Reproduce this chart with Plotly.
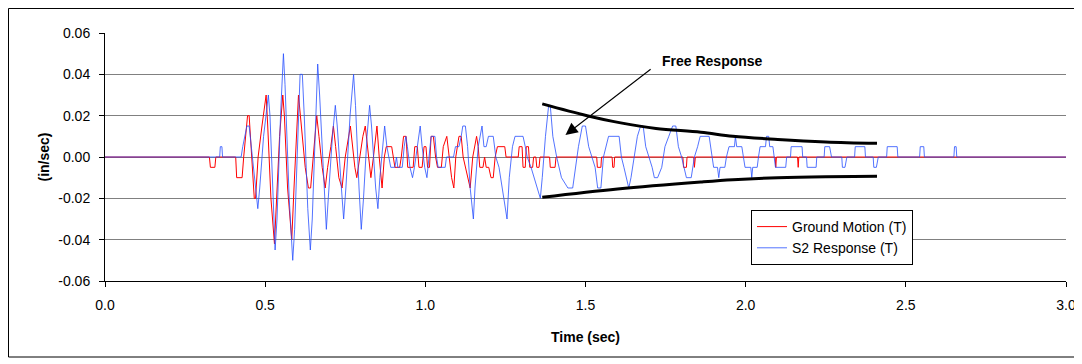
import plotly.graph_objects as go

# ---------------- data ----------------
gm_t = [0.0, 0.326, 0.329, 0.343, 0.346, 0.408, 0.411, 0.428, 0.433, 0.44, 0.445, 0.45, 0.458, 0.466, 0.47,
        0.478, 0.49, 0.503, 0.508, 0.518, 0.529, 0.535, 0.545, 0.555, 0.56, 0.57, 0.583, 0.59, 0.598, 0.604,
        0.61, 0.625, 0.635, 0.642, 0.65, 0.661, 0.668, 0.678, 0.6875, 0.695, 0.705, 0.713, 0.72, 0.73, 0.74,
        0.75, 0.766, 0.772, 0.78, 0.786, 0.795, 0.805, 0.8125, 0.82, 0.83, 0.838, 0.849, 0.856, 0.865, 0.872,
        0.878, 0.895, 0.9, 0.905, 0.92, 0.925, 0.932, 0.94, 0.945, 0.962, 0.967, 0.975, 0.98, 0.99, 0.996,
        1.002, 1.007, 1.013, 1.018, 1.025, 1.032, 1.038, 1.05, 1.056, 1.067, 1.075, 1.082, 1.089, 1.095, 1.105,
        1.112, 1.118, 1.125, 1.132, 1.14, 1.148, 1.155, 1.16, 1.165, 1.17, 1.18, 1.185, 1.19, 1.198, 1.205,
        1.212, 1.218, 1.225, 1.248, 1.252, 1.29, 1.293, 1.302, 1.305, 1.312, 1.315, 1.322, 1.326, 1.335, 1.338,
        1.345, 1.348, 1.355, 1.358, 1.388, 1.39, 1.405, 1.408, 1.535, 1.537, 1.548, 1.55, 1.583, 1.585, 1.589,
        1.591, 1.804, 1.806, 1.815, 1.817, 1.838, 1.84, 1.843, 2.092, 2.094, 2.096, 2.162, 2.164, 2.166, 3.0]
gm_v = [0, 0, -0.005, -0.005, 0, 0, -0.01, -0.01, 0, 0.01, 0.02, 0.02, 0, -0.02, -0.02,
        0, 0.015, 0.03, 0.015, -0.02, -0.042, -0.02, 0.01, 0.03, 0.02, -0.015, -0.04, -0.015, 0.015, 0.03,
        0.02, -0.005, -0.015, -0.015, 0.0, 0.02, 0.01, -0.005, -0.015, -0.005, 0.005, 0.015, 0.005, -0.01, -0.015,
        0, 0.015, 0.005, -0.005, -0.01, 0.0, 0.01, 0.015, 0.005, -0.01, 0.0, 0.015, 0.0, -0.015, 0.0,
        0.005, 0.005, 0, -0.005, -0.005, 0, 0.01, 0.01, -0.005, -0.005, 0.005, 0.005, -0.005, -0.005, 0.005,
        0.005, -0.005, -0.005, 0.01, 0.01, 0, -0.005, -0.005, 0.005, 0.01, 0, -0.01, -0.015, 0, 0.01,
        0.01, 0, -0.005, -0.01, -0.015, 0.0, 0.005, 0.01, 0.005, -0.005, -0.005, 0, -0.005, -0.005, -0.01,
        -0.01, 0, 0.005, 0.005, 0, 0, 0.005, 0.005, -0.005, -0.005, 0.005, 0.005, -0.005, -0.005, 0,
        0, -0.005, -0.005, 0, 0, -0.005, -0.005, 0, 0, -0.005, -0.005, 0, 0, -0.005, -0.005,
        0, 0, -0.005, -0.005, 0, 0, -0.005, 0, 0, -0.005, 0, 0, -0.005, 0, 0]

s2_t = [0.0, 0.358, 0.36, 0.365, 0.367, 0.425, 0.43, 0.437, 0.443, 0.45, 0.46, 0.47, 0.477, 0.483, 0.495,
        0.51, 0.515, 0.525, 0.531, 0.537, 0.548, 0.557, 0.562, 0.575, 0.586, 0.592, 0.603, 0.609, 0.616, 0.622,
        0.633, 0.641, 0.647, 0.657, 0.664, 0.67, 0.683, 0.691, 0.697, 0.71, 0.719, 0.725, 0.738, 0.745, 0.752,
        0.765, 0.776, 0.782, 0.793, 0.80, 0.807, 0.818, 0.826, 0.832, 0.845, 0.852, 0.858, 0.866, 0.873, 0.88,
        0.887, 0.892, 0.905, 0.91, 0.914, 0.928, 0.934, 0.939, 0.944, 0.952, 0.96, 0.966, 0.975, 0.984, 0.99,
        0.998, 1.005, 1.012, 1.018, 1.03, 1.035, 1.04, 1.062, 1.066, 1.088, 1.094, 1.105, 1.112, 1.117, 1.125,
        1.132, 1.14, 1.15, 1.155, 1.165, 1.177, 1.183, 1.19, 1.197, 1.212, 1.22, 1.23, 1.24, 1.255, 1.262,
        1.272, 1.28, 1.305, 1.312, 1.318, 1.33, 1.34, 1.35, 1.359, 1.365, 1.375, 1.385, 1.39, 1.398, 1.41,
        1.425, 1.445, 1.46, 1.468, 1.478, 1.49, 1.5, 1.51, 1.52, 1.53, 1.538, 1.548, 1.556, 1.565, 1.572,
        1.605, 1.612, 1.62, 1.628, 1.635, 1.642, 1.652, 1.662, 1.672, 1.68, 1.688, 1.698, 1.708, 1.715, 1.725,
        1.738, 1.748, 1.76, 1.772, 1.782, 1.79, 1.8, 1.808, 1.815, 1.83, 1.84, 1.85, 1.858, 1.886, 1.89,
        1.895, 1.9, 1.912, 1.916, 1.92, 1.935, 1.94, 1.948, 1.965, 1.968, 1.972, 1.988, 1.993, 1.998, 2.016,
        2.019, 2.022, 2.036, 2.04, 2.045, 2.062, 2.065, 2.072, 2.075, 2.085, 2.09, 2.093, 2.125, 2.128, 2.14,
        2.142, 2.176, 2.178, 2.19, 2.192, 2.22, 2.222, 2.245, 2.247, 2.262, 2.268, 2.3, 2.302, 2.31, 2.316,
        2.34, 2.342, 2.372, 2.374, 2.398, 2.4, 2.408, 2.414, 2.44, 2.442, 2.473, 2.475, 2.543, 2.545, 2.556,
        2.558, 2.65, 2.652, 2.657, 2.659, 3.0]
s2_v = [0, 0, 0.005, 0.005, 0, 0, 0.005, 0.01, 0.015, 0.015, 0.0, -0.015, -0.025, -0.015, 0.01,
        0.03, 0.02, -0.02, -0.045, -0.03, 0.02, 0.05, 0.035, -0.02, -0.05, -0.035, 0.02, 0.04, 0.04, 0.02,
        -0.025, -0.045, -0.03, 0.02, 0.045, 0.03, -0.015, -0.035, -0.02, 0.01, 0.025, 0.015, -0.015, -0.03, -0.015,
        0.02, 0.04, 0.025, -0.015, -0.035, -0.02, 0.01, 0.025, 0.015, -0.015, -0.025, -0.01, 0.005, 0.015, 0.005,
        0, -0.005, -0.005, 0, -0.005, -0.005, 0.005, 0.01, 0.005, -0.005, -0.01, -0.005, 0.005, 0.015, 0.005,
        -0.005, -0.01, 0.0, 0.01, 0.01, 0, -0.005, -0.005, 0, 0, 0.005, 0.005, 0.01, 0.015, 0.015,
        0.005, -0.015, -0.03, -0.015, 0.005, 0.015, 0.005, 0.005, 0.01, 0.01, 0.0, -0.005, -0.015, -0.03, -0.01,
        0.005, 0.01, 0.01, 0.005, 0, -0.005, -0.01, -0.015, -0.02, -0.01, 0.01, 0.025, 0.025, 0.01, 0.0,
        -0.01, -0.015, -0.015, -0.005, 0.005, 0.015, 0.015, 0.005, 0, -0.005, -0.015, -0.015, 0, 0.005, 0.01,
        0.01, 0, -0.005, -0.01, -0.015, -0.01, 0, 0.01, 0.015, 0.015, 0.005, 0, -0.005, -0.01, -0.01,
        -0.005, 0.005, 0.01, 0.015, 0.015, 0.005, 0, -0.005, -0.01, -0.01, 0, 0.005, 0.01, 0.01, 0.005,
        0, -0.005, -0.005, -0.01, -0.005, -0.005, 0, 0.005, 0.005, 0.01, 0.005, 0.005, 0, -0.005, -0.005,
        -0.01, -0.005, -0.005, 0, 0.005, 0.005, 0.01, 0.01, 0.005, 0.005, 0, -0.005, -0.005, 0, 0,
        0.005, 0.005, 0, 0, -0.005, -0.005, 0, 0, 0.005, 0.005, 0, 0, -0.005, -0.005, 0,
        0, 0.005, 0.005, 0, 0, -0.005, -0.005, 0, 0, 0.005, 0.005, 0, 0, 0.005, 0.005,
        0, 0, 0.005, 0.005, 0, 0]

env_up_t = [1.365, 1.505, 1.61, 1.72, 1.86, 1.96, 2.1, 2.25, 2.41]
env_up_v = [0.0257, 0.0200, 0.0165, 0.0138, 0.0120, 0.0100, 0.0085, 0.0073, 0.0066]
env_lo_t = [1.365, 1.6, 1.86, 1.96, 2.1, 2.25, 2.41]
env_lo_v = [-0.0195, -0.0155, -0.0121, -0.0110, -0.0100, -0.0095, -0.0093]

x_ticks = [0.0, 0.5, 1.0, 1.5, 2.0, 2.5, 3.0]
y_ticks = [-0.06, -0.04, -0.02, 0.0, 0.02, 0.04, 0.06]

FONT = "Liberation Sans, Arial, sans-serif"

fig = go.Figure()
fig.add_trace(go.Scatter(x=gm_t, y=gm_v, mode="lines", name="Ground Motion (T)",
                         line=dict(color="#ff0000", width=1)))
fig.add_trace(go.Scatter(x=s2_t, y=s2_v, mode="lines", name="S2 Response (T)",
                         line=dict(color="rgba(40,80,255,0.8)", width=1)))
fig.add_trace(go.Scatter(x=env_up_t, y=env_up_v, mode="lines", showlegend=False,
                         line=dict(color="black", width=3, shape="spline")))
fig.add_trace(go.Scatter(x=env_lo_t, y=env_lo_v, mode="lines", showlegend=False,
                         line=dict(color="black", width=3, shape="spline")))

fig.add_annotation(x=1.897, y=0.0465, text="<b>Free Response</b>", showarrow=False,
                   font=dict(family=FONT, size=14, color="black"))
fig.add_annotation(x=1.4375, y=0.0107, ax=1.708, ay=0.043, axref="x", ayref="y",
                   text="", showarrow=True, arrowhead=2, arrowsize=2.2, arrowwidth=1.1,
                   arrowcolor="black", standoff=0, startstandoff=0)

# outer chart frame (the page body adds an 8px offset)
fig.add_shape(type="rect", xref="paper", yref="paper", x0=-0.1004, x1=1.0114, y0=-0.3065, y1=1.0988,
              line=dict(color="black", width=1), fillcolor="rgba(0,0,0,0)", layer="below")

fig.update_layout(
    width=1074, height=356,
    margin=dict(l=97, r=16, t=25, b=83, autoexpand=False),
    paper_bgcolor="white", plot_bgcolor="white",
    font=dict(family=FONT, size=14, color="black"),
    showlegend=True,
    legend=dict(x=(751 - 105) / 961, y=(281 - 210) / 248, xanchor="left", yanchor="top",
                bgcolor="white", bordercolor="black", borderwidth=1,
                font=dict(family=FONT, size=14, color="black"),
                tracegroupgap=0, itemwidth=30),
)
fig.update_xaxes(range=[0, 3], tickvals=x_ticks, ticktext=[f"{v:.1f}" for v in x_ticks],
                 showgrid=False, zeroline=False, showline=True, linecolor="black", linewidth=1,
                 ticks="outside", ticklen=5, tickcolor="black", ticklabelstandoff=6,
                 tickfont=dict(family=FONT, size=14),
                 title=dict(text="<b>Time (sec)</b>", font=dict(family=FONT, size=14), standoff=20))
fig.update_yaxes(range=[-0.06, 0.06], tickvals=y_ticks, ticktext=[f"{v:.2f}" for v in y_ticks],
                 showgrid=True, gridcolor="#808080", gridwidth=1, zeroline=False,
                 showline=True, linecolor="black", linewidth=1,
                 ticks="outside", ticklen=5, tickcolor="black", ticklabelstandoff=6,
                 tickfont=dict(family=FONT, size=14),
                 title=dict(text="<b>(in/sec)</b>", font=dict(family=FONT, size=14), standoff=5))

fig.write_html("out.html")
